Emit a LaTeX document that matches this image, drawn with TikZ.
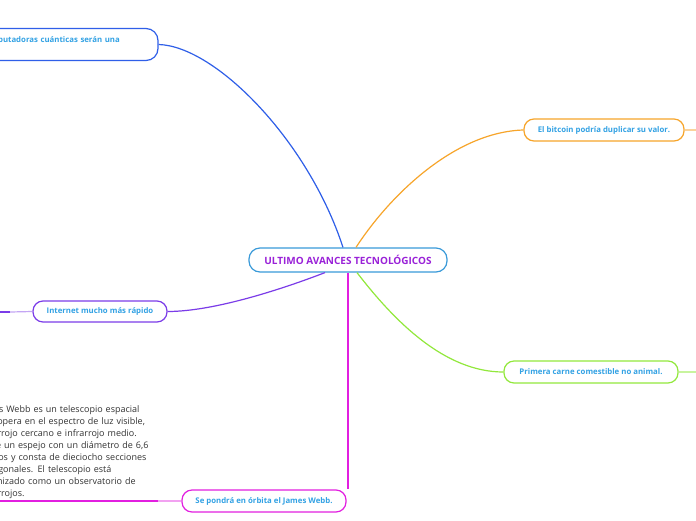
\documentclass[tikz,border=0pt]{standalone}
\usepackage{fontspec}
\setmainfont{Open Sans}
\usetikzlibrary{calc}
\definecolor{cblue}{HTML}{2F5FE8}
\definecolor{corange}{HTML}{F7A52B}
\definecolor{corangel}{HTML}{FBD29A}
\definecolor{cgreen}{HTML}{92E83C}
\definecolor{cgreenl}{HTML}{C8F49E}
\definecolor{cpurple}{HTML}{7B3CE8}
\definecolor{cpurplel}{HTML}{C4A6F4}
\definecolor{cmag}{HTML}{E21FE0}
\definecolor{cmagl}{HTML}{F2A2F1}
\definecolor{ccentral}{HTML}{3A9AD9}
\definecolor{clabel}{HTML}{33A2E4}
\definecolor{ctitle}{HTML}{9A22D8}
\definecolor{cbody}{HTML}{333333}
\tikzset{
  topic/.style={draw=#1, line width=1.2pt, rounded corners=10pt, fill=white, text=clabel,
    font=\fontsize{7.8}{10}\selectfont\bfseries, inner sep=0pt, minimum height=22pt},
  central/.style={draw=ccentral, line width=1.2pt, rounded corners=11pt, fill=white, text=ctitle,
    font=\fontsize{10}{12}\selectfont\bfseries, inner sep=0pt, minimum width=198pt, minimum height=24pt},
  conn/.style={draw=#1, line width=1.2pt},
  body/.style={text=cbody, font=\fontsize{9}{12}\selectfont, align=left, inner sep=0pt}
}
\begin{document}
\begin{tikzpicture}[x=1pt,y=-1pt]
\path[use as bounding box, clip] (0,0) rectangle (696,520);
\fill[white] (0,0) rectangle (696,520);
% central
\node[central] (c) at (348,260) {ULTIMO AVANCES TECNOLÓGICOS};
% topics
\node[topic=cblue, minimum height=32pt, rounded corners=12pt, text width=179pt, inner xsep=13pt, align=left,
  font=\fontsize{7.8}{10.5}\selectfont\bfseries] (q) at (55.5,44.5) {Las computadoras cuánticas serán una\\realidad.};
\node[topic=corange, minimum width=160pt] (b) at (604,130) {El bitcoin podría duplicar su valor.};
\node[topic=cgreen, minimum width=174pt] (m) at (591,372) {Primera carne comestible no animal.};
\node[topic=cpurple, minimum width=134pt, minimum height=21pt] (i) at (100,311.5) {Internet mucho más rápido};
\node[topic=cmag, minimum width=164pt] (w) at (264,501) {Se pondrá en órbita el James Webb.};
% body text of James Webb
\node[body, anchor=north west, text width=200pt] (wt) at (-22,405) {James Webb es un telescopio espacial\\que opera en el espectro de luz visible,\\infrarrojo cercano e infrarrojo medio.\\Tiene un espejo con un diámetro de 6,6\\metros y consta de dieciocho secciones\\hexagonales. El telescopio está\\organizado como un observatorio de\\infrarrojos.};
% coordinates
\coordinate (wl) at (158,501);
\coordinate (wl0) at (-30,501);
\coordinate (il) at (10,312);
\coordinate (il0) at (-30,312);
\coordinate (br) at (700,130);
\coordinate (mr) at (700,372);
% connectors
\draw[conn=cblue] (q.east) .. controls (215,46) and (308,140) .. ($(c.north)+(-5,0)$);
\draw[conn=corange] ($(c.north)+(8,0)$) .. controls (390,195) and (455,132) .. (b.west);
\draw[conn=cgreen] ($(c.south)+(9,0)$) .. controls (395,322) and (445,372) .. (m.west);
\draw[conn=cpurple] ($(c.south)+(-23,0)$) .. controls (285,288) and (215,311.5) .. (i.east);
\draw[conn=cmag] (c.south) -- (c.south |- w.north east);
% sub-branches
\draw[corangel, line width=1.2pt] (b.east) -- (br);
\draw[cgreenl, line width=1.2pt] (m.east) -- (mr);
\draw[cpurplel, line width=1.2pt] (i.west) -- (il);
\draw[cpurple, line width=1.6pt] (il) -- (il0);
\draw[cmagl, line width=1.2pt] (w.west) -- (wl);
\draw[cmag, line width=1.6pt] (wl) -- (wl0);
\end{tikzpicture}
\end{document}
